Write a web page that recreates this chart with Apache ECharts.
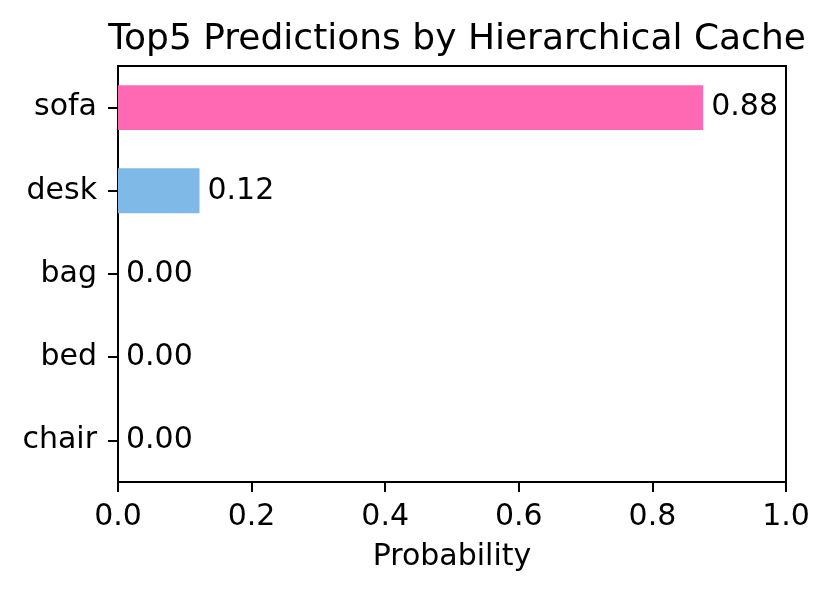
<!DOCTYPE html>
<html>
<head>
<meta charset="utf-8">
<script src="https://cdn.jsdelivr.net/npm/echarts@6/dist/echarts.min.js"></script>
<style>html,body{margin:0;padding:0;background:#fff;}#c{width:832px;height:595px;}</style>
</head>
<body>
<div id="c"></div>
<script>
const categories = ['sofa', 'desk', 'bag', 'bed', 'chair'];
const probabilities = [0.876, 0.122, 0.0, 0.0, 0.0];
const barColors = ['#ff69b4', '#7fb9e8', '#7fb9e8', '#7fb9e8', '#7fb9e8'];
const xTicks = [0, 0.2, 0.4, 0.6, 0.8, 1.0];
const titleText = 'Top5 Predictions by Hierarchical Cache';
const xAxisName = 'Probability';

const FONT = 'DejaVu Sans';
const LBL = 30;
const chart = echarts.init(document.getElementById('c'), null, {renderer: 'canvas'});
chart.setOption({
  animation: false,
  backgroundColor: '#ffffff',
  title: {
    text: titleText,
    left: 452,
    textAlign: 'center',
    top: 17,
    textStyle: {fontFamily: FONT, fontSize: 36, fontWeight: 'normal', color: '#000'}
  },
  grid: {
    left: 118, right: 46, top: 66, bottom: 113,
    show: true, borderColor: '#000', borderWidth: 2, backgroundColor: 'transparent'
  },
  xAxis: {
    type: 'value',
    min: 0, max: 1, interval: 0.2,
    name: xAxisName,
    nameLocation: 'middle',
    nameGap: 60,
    nameTextStyle: {fontFamily: FONT, fontSize: LBL, color: '#000'},
    axisLine: {show: true, lineStyle: {color: '#000', width: 2}},
    axisTick: {show: true, length: 10, lineStyle: {color: '#000', width: 2}},
    splitLine: {show: false},
    axisLabel: {
      fontFamily: FONT, fontSize: LBL, color: '#000', margin: 20,
      formatter: v => xTicks.includes(+v.toFixed(1)) ? v.toFixed(1) : ''
    }
  },
  yAxis: {
    type: 'category',
    data: categories,
    inverse: true,
    axisLine: {show: true, lineStyle: {color: '#000', width: 2}},
    axisTick: {show: true, length: 10, alignWithLabel: true, lineStyle: {color: '#000', width: 2}},
    splitLine: {show: false},
    axisLabel: {fontFamily: FONT, fontSize: LBL, color: '#000', margin: 21}
  },
  series: [{
    type: 'bar',
    barWidth: '54%',
    data: probabilities.map((v, i) => ({value: v, itemStyle: {color: barColors[i]}})),
    label: {
      show: true,
      position: 'right',
      distance: 8,
      fontFamily: FONT, fontSize: LBL, color: '#000',
      formatter: p => p.value.toFixed(2)
    }
  }]
});
</script>
</body>
</html>
